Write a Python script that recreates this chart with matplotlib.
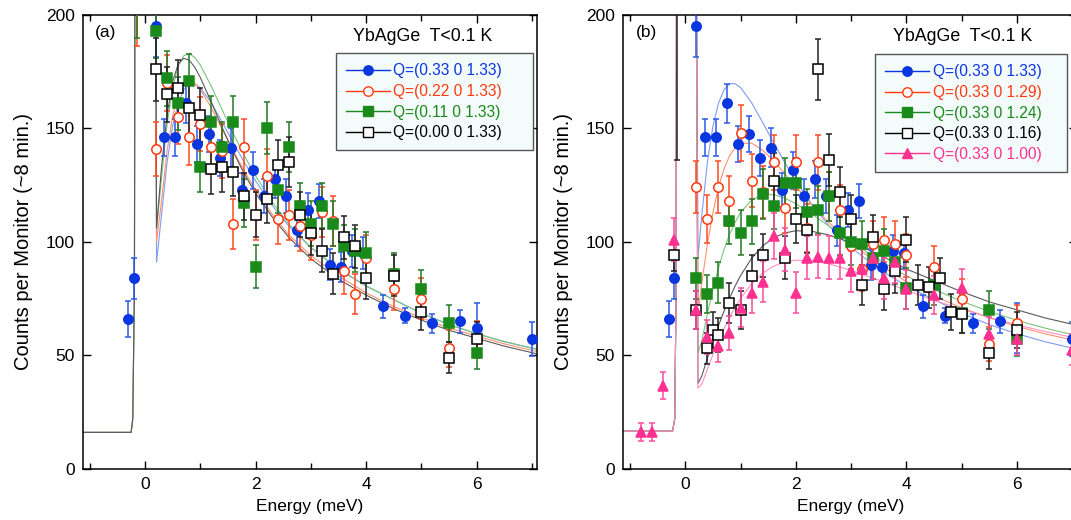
import matplotlib
matplotlib.use('Agg')
import matplotlib.pyplot as plt
from matplotlib.lines import Line2D

plt.rcParams['font.family'] = ['Liberation Sans', 'DejaVu Sans']

# ---------------- data: panel (a) ----------------
# Q=(0.33 0 1.33)  (same scan shown in both panels)
blue_E = [-0.3, -0.2, 0.2, 0.35, 0.55, 0.75, 0.95, 1.15, 1.35, 1.55, 1.75, 1.95, 2.15, 2.35,
          2.55, 2.75, 2.95, 3.15, 3.35, 3.55, 3.75, 3.95, 4.3, 4.7, 5.2, 5.7, 6.0, 7.0]
blue_Y = [66, 84, 195, 146, 146, 161, 143, 147.5, 137, 141.5, 123, 131.5, 120, 127.5,
          120, 105, 114, 118, 90, 89, 96, 95, 71.5, 67.5, 64, 65, 62, 57]
blue_err = [8, 9, 13.5, 8, 8, 8.5, 8, 8, 8, 8.5, 7.5, 8, 7.5, 8,
            7.5, 7, 7.5, 7.5, 7, 6.5, 7, 7, 5, 3.5, 4, 5, 11, 7.5]

grid_a = [-0.15, 0.2, 0.4, 0.6, 0.8, 1.0, 1.2, 1.4, 1.6, 1.8, 2.0, 2.2, 2.4, 2.6, 2.8, 3.0,
          3.2, 3.4, 3.6, 3.8, 4.0, 4.5, 5.0, 5.5, 6.0]
red_a_Y = [230, 141, 170, 155, 146, 152, 142, 140, 108, 142, 112, 129, 110, 112, 107, 103,
           113, 109, 87, 77, 93, 79, 75, 53, 57]
red_a_err = [43.5, 12, 12.5, 12, 12, 12, 12, 12, 11, 12, 11, 12, 11, 11, 11, 11,
             11, 11, 10, 9, 10, 9, 9, 8, 8]
green_a_Y = [230, 193, 172, 161, 171, 133, 153, 142, 153, 117, 89, 150, 123, 142, 116, 108,
             116, 108, 98, 96, 95, 86, 79, 64, 51]
green_a_err = [40, 12, 12, 11.5, 12, 11, 11.5, 11, 11.5, 10.5, 9.5, 11.5, 10.5, 11, 10, 10,
               10, 10, 9.5, 9.5, 9.5, 9, 8.5, 8, 7]
black_a_E = grid_a[1:]
black_a_Y = [176, 165, 168, 159, 156, 132, 133, 131, 120, 112, 119, 134, 135, 112, 104,
             96, 86, 102, 98, 84, 85, 69, 49, 57]
black_a_err = [14, 12, 12, 12, 12, 11, 11, 11, 10.5, 10, 10.5, 11, 11, 10, 10,
               9.5, 9, 9.5, 9.5, 9, 9, 8, 7, 7.5]

# fitted curves, panel (a)
fit_E_a = [-1.2, -0.25, -0.22, -0.19, -0.17, 0.17, 0.21, 0.3, 0.4, 0.5, 0.6, 0.7, 0.8, 0.9, 1.0,
           1.2, 1.4, 1.6, 1.8, 2.0, 2.3, 2.6, 3.0, 3.5, 4.0, 4.5, 5.0, 5.5, 6.0, 6.5, 7.2]
fit_blue_a = [16, 16, 22, 80, 400, 400, 91, 112, 135, 151, 161, 167, 169.7, 169.7, 168,
              161.3, 152.6, 143.6, 134.9, 126.9, 116.1, 107, 97.5, 88, 80.5, 74.5, 68.5, 63.5, 59.5, 56, 52]
fit_red_a = [16, 16, 22, 80, 400, 400, 100, 118, 140, 155.3, 164.8, 169.6, 171, 169.9, 167.2,
             159.1, 149.5, 140, 131, 122.9, 112.2, 103.1, 94, 85, 77.5, 71.5, 66.5, 62, 58.5, 55, 51]
fit_green_a = [16, 16, 22, 80, 400, 400, 106, 128, 151.6, 167.7, 177.4, 182, 183, 181.3, 178,
               168.6, 158, 147.6, 137.9, 129.1, 117.6, 107.9, 97.5, 88, 80.5, 74.5, 68.5, 63.5, 59.5, 56, 52]
fit_black_a = [16, 16, 22, 80, 400, 400, 106, 133, 156, 170.6, 178.3, 180.9, 180.1, 177, 172.5,
               161.6, 150.2, 139.5, 129.8, 121.5, 111, 102, 92.5, 83.5, 76.5, 70.5, 65.5, 61, 57.5, 54, 50]

# ---------------- data: panel (b) ----------------
red_b_E = [0.2, 0.4, 0.6, 0.8, 1.0, 1.2, 1.4, 1.6, 1.8, 2.0, 2.2, 2.4, 2.6, 2.8, 3.0, 3.2,
           3.4, 3.6, 3.8, 4.0, 4.5, 5.0, 5.5, 6.0]
red_b_Y = [124, 110, 124, 118, 148, 127, 122, 135, 115, 135, 106, 135, 120, 114, 98, 88,
           99, 101, 99, 94, 89, 75, 55, 64]
red_b_err = [11.5, 10.5, 11.5, 11, 12.5, 11.5, 11.5, 12, 11, 12, 10.5, 12, 11, 11, 10, 9.5,
             10, 10, 10, 9.5, 9, 8.5, 7.5, 8]
green_b_E = [0.2, 0.4, 0.6, 0.8, 1.0, 1.2, 1.4, 1.6, 1.8, 2.0, 2.2, 2.4, 2.6, 2.8, 3.0, 3.2,
             3.4, 3.6, 3.8, 4.0, 4.5, 5.0, 5.5, 6.0]
green_b_Y = [84, 77, 82, 109, 104, 109, 121, 116, 126, 126, 113, 114, 120, 104, 100, 99,
             93, 96, 91, 79.5, 81, 68.5, 70, 57]
green_b_err = [9, 8.5, 9, 10, 10, 10, 11, 10.5, 11, 11, 10.5, 10.5, 11, 10, 10, 10,
               9.5, 9.5, 9.5, 9, 9, 8.5, 8.5, 7.5]
black_b_E = [-0.2, -0.15, 0.2, 0.4, 0.5, 0.6, 0.8, 1.0, 1.2, 1.4, 1.6, 1.8, 2.0, 2.2, 2.4, 2.6,
             2.8, 3.0, 3.2, 3.4, 3.6, 3.8, 4.0, 4.2, 4.4, 4.6, 4.8, 5.0, 5.5, 6.0]
black_b_Y = [94, 260, 70, 53, 61, 59, 73, 70, 85, 94, 127, 93, 110, 105, 176, 136,
             122, 110, 81, 102, 79, 87, 101, 81, 80, 84, 69, 68, 51, 61]
black_b_err = [7, 124, 8.5, 7, 8, 7.5, 9, 8.5, 9, 9.5, 12, 9.5, 10.5, 10, 13.5, 11.5,
               11, 10.5, 9, 10, 9, 9.5, 10, 9, 9, 9, 8, 8, 7, 8]
pink_b_E = [-0.8, -0.6, -0.4, -0.2, 0.2, 0.4, 0.6, 0.8, 1.0, 1.2, 1.4, 1.6, 1.8, 2.0, 2.2,
            2.4, 2.6, 2.8, 3.0, 3.2, 3.4, 3.6, 3.8, 4.0, 4.5, 5.0, 5.5, 6.0, 7.0]
pink_b_Y = [16, 16, 36.5, 101, 70, 58, 54, 60, 71, 77.5, 82.5, 102.5, 96.5, 77.5, 93,
            93.5, 93, 93, 87, 88, 93, 84, 91, 79, 76.5, 79.5, 59.5, 57, 52.5]
pink_b_err = [4, 4, 6, 9.5, 8.5, 7.5, 7, 7.5, 8.5, 9, 9, 10, 9.5, 9, 9.5,
              9.5, 9.5, 9.5, 9, 9, 9.5, 9, 9, 8.5, 8.5, 8.5, 7.5, 7, 7]

fit_E_b = [-1.2, -0.23, -0.19, -0.165, -0.15, 0.17, 0.23, 0.3, 0.4, 0.5, 0.6, 0.7, 0.8, 0.9, 1.0,
           1.2, 1.4, 1.6, 1.8, 2.0, 2.3, 2.6, 3.0, 3.5, 4.0, 4.5, 5.0, 5.5, 6.0, 6.5, 7.2]
fit_blue_b = [16.5, 16.5, 22, 80, 400, 400, 93, 112, 135, 151, 161, 167, 169.7, 169.7, 168,
              161.3, 152.6, 143.6, 134.9, 126.9, 116.1, 107, 97.5, 88, 80.5, 74.5, 68.5, 63.5, 59.5, 56, 52]
fit_red_b = [16.5, 16.5, 22, 80, 400, 400, 68, 82, 98.9, 112.9, 123.9, 132.1, 137.9, 141.5, 143.4,
             143.5, 140.4, 135.6, 130.1, 124.4, 116.1, 108.4, 99.4, 90.1, 82.4, 76.1, 70.9, 66.5, 62.7, 59.5, 55.6]
fit_green_b = [16.5, 16.5, 22, 80, 400, 400, 51, 56.4, 68.3, 79, 88.4, 96.5, 103.2, 108.6, 112.9,
               118.4, 120.8, 120.8, 119.3, 116.8, 112.1, 106.9, 100, 92, 85, 79, 73.8, 69.3, 65.4, 62, 57.9]
fit_black_b = [16.5, 16.5, 22, 80, 400, 400, 37.5, 40.9, 48.7, 56.1, 63, 69.4, 75.2, 80.4, 85.1,
               92.7, 98.2, 101.8, 103.9, 104.9, 104.6, 103, 99.6, 94.5, 88, 83, 78, 73.5, 70, 66.5, 62.5]
fit_pink_b = [16.5, 16.5, 22, 80, 400, 400, 35.5, 37.3, 43.9, 50.2, 56.1, 61.6, 66.6, 71, 75,
              81.5, 86.2, 89.3, 91.1, 91.9, 91.7, 90.3, 87.4, 83.1, 78.6, 74.2, 70.3, 66.7, 63.4, 60.5, 56.9]

labels_a = ['Q=(0.33 0 1.33)', 'Q=(0.22 0 1.33)', 'Q=(0.11 0 1.33)', 'Q=(0.00 0 1.33)']
labels_b = ['Q=(0.33 0 1.33)', 'Q=(0.33 0 1.29)', 'Q=(0.33 0 1.24)', 'Q=(0.33 0 1.16)', 'Q=(0.33 0 1.00)']

# styles: marker, text/marker colour, errorbar colour, fit colour, filled
BLUE = dict(marker='o', c='#0a36e0', ec='#2a5ae8', fc='#7f9cf0', fill=True)
RED = dict(marker='o', c='#ff3a10', ec='#ff4a20', fc='#ff9070', fill=False)
GREEN = dict(marker='s', c='#1a8a1a', ec='#237a23', fc='#7cc47c', fill=True)
BLACK = dict(marker='s', c='#000000', ec='#222222', fc='#5a5a5a', fill=False)
PINK = dict(marker='^', c='#ff3090', ec='#ff4a9c', fc='#ff90c0', fill=True)


def draw(ax, E, Y, err, st):
    mfc = st['c'] if st['fill'] else 'white'
    ax.errorbar(E, Y, yerr=err, fmt=st['marker'], ms=6.8, mfc=mfc, mec=st['c'], mew=1.1,
                ecolor=st['ec'], elinewidth=1.1, capsize=2.5, capthick=1, zorder=3)


def style_axes(ax):
    ax.set_xlim(-1.12, 7.09)
    ax.set_ylim(0, 200)
    ax.set_xticks([0, 2, 4, 6])
    ax.set_xticks([-1, 1, 3, 5, 7], minor=True)
    ax.set_yticks([0, 50, 100, 150, 200])
    ax.tick_params(which='both', direction='in', top=True, right=True, labelsize=12.5,
                   width=1, pad=6)
    ax.tick_params(which='major', length=6)
    ax.tick_params(which='minor', length=4)
    for s in ax.spines.values():
        s.set_linewidth(1.1)
    ax.set_xlabel('Energy (meV)', fontsize=12.5, labelpad=5)
    ax.set_ylabel('Counts per Monitor (~8 min.)', fontsize=14.5, labelpad=9)


def legend(ax, styles, labels, x, y, w):
    handles = []
    for st in styles:
        mfc = st['c'] if st['fill'] else 'white'
        handles.append(Line2D([], [], color=st['c'], lw=1, marker=st['marker'], ms=6.8,
                              mfc=mfc, mec=st['c']))
    leg = ax.legend(handles, labels, loc='upper left', bbox_to_anchor=(x, y, w, 0),
                    mode='expand', borderaxespad=0,
                    fontsize=11.2, handlelength=2.8, handletextpad=0.25, labelspacing=0.36,
                    fancybox=False, framealpha=1, facecolor='#f3fbfb', edgecolor='#555555',
                    borderpad=0.65)
    leg.get_frame().set_linewidth(1)
    for t, st in zip(leg.get_texts(), styles):
        t.set_color(st['c'])


fig = plt.figure(figsize=(10.71, 5.2), dpi=100)
ax1 = fig.add_axes([0.0775, 0.0987, 0.4239, 0.8725])
ax2 = fig.add_axes([0.582, 0.0987, 0.4239, 0.8725])

# panel (a)
for fit, st in [(fit_blue_a, BLUE), (fit_red_a, RED), (fit_green_a, GREEN), (fit_black_a, BLACK)]:
    ax1.plot(fit_E_a, fit, color=st['fc'], lw=0.8, zorder=2)
draw(ax1, blue_E, blue_Y, blue_err, BLUE)
draw(ax1, grid_a, red_a_Y, red_a_err, RED)
draw(ax1, grid_a, green_a_Y, green_a_err, GREEN)
draw(ax1, black_a_E, black_a_Y, black_a_err, BLACK)
style_axes(ax1)
ax1.text(0.027, 0.962, '(a)', transform=ax1.transAxes, fontsize=12.5, va='center')
ax1.text(0.595, 0.952, 'YbAgGe  T<0.1 K', transform=ax1.transAxes, fontsize=12.8, va='center')
legend(ax1, [BLUE, RED, GREEN, BLACK], labels_a, 0.557, 0.9156, 0.434)

# panel (b)
for fit, st in [(fit_blue_b, BLUE), (fit_red_b, RED), (fit_green_b, GREEN),
                (fit_black_b, BLACK), (fit_pink_b, PINK)]:
    ax2.plot(fit_E_b, fit, color=st['fc'], lw=0.8, zorder=2)
draw(ax2, blue_E, blue_Y, blue_err, BLUE)
draw(ax2, red_b_E, red_b_Y, red_b_err, RED)
draw(ax2, green_b_E, green_b_Y, green_b_err, GREEN)
draw(ax2, black_b_E, black_b_Y, black_b_err, BLACK)
draw(ax2, pink_b_E, pink_b_Y, pink_b_err, PINK)
style_axes(ax2)
ax2.text(0.027, 0.962, '(b)', transform=ax2.transAxes, fontsize=12.5, va='center')
ax2.text(0.595, 0.952, 'YbAgGe  T<0.1 K', transform=ax2.transAxes, fontsize=12.8, va='center')
legend(ax2, [BLUE, RED, GREEN, BLACK, PINK], labels_b, 0.555, 0.9134, 0.423)

fig.savefig('out.png', dpi=100)
